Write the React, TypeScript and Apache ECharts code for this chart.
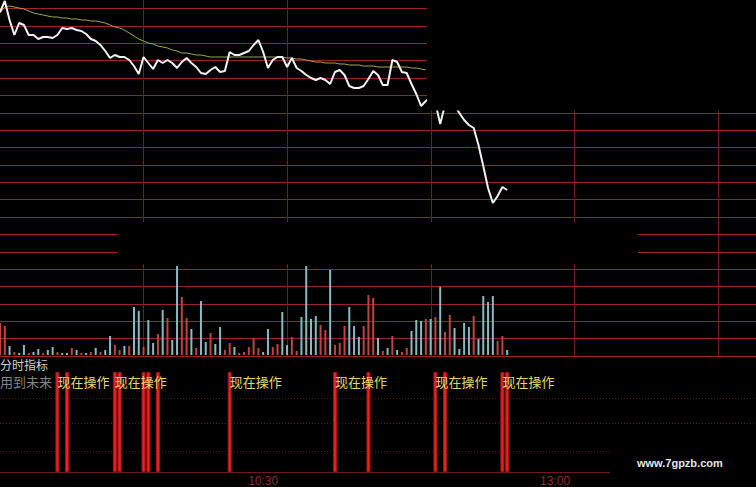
import React, { useEffect, useRef } from "react";
import * as echarts from "echarts";

// slots (minutes) shown across the full width of the chart
const SLOTS = 158;

// last price per slot
const price = [
  11.88, 11.99, 11.8, 11.65, 11.77, 11.75, 11.65, 11.65, 11.61, 11.63,
  11.63, 11.62, 11.65, 11.72, 11.71, 11.72, 11.7, 11.69, 11.66, 11.61,
  11.59, 11.55, 11.49, 11.42, 11.45, 11.43, 11.43, 11.4, 11.34, 11.26,
  11.43, 11.37, 11.31, 11.4, 11.37, 11.4, 11.37, 11.32, 11.38, 11.42,
  11.37, 11.33, 11.27, 11.26, 11.3, 11.33, 11.28, 11.29, 11.48, 11.45,
  11.45, 11.47, 11.49, 11.55, 11.6, 11.48, 11.32, 11.4, 11.43, 11.43,
  11.33, 11.42, 11.32, 11.29, 11.25, 11.22, 11.2, 11.22, 11.2, 11.16,
  11.28, 11.3, 11.25, 11.14, 11.12, 11.12, 11.14, 11.21, 11.29, 11.25,
  11.15, 11.15, 11.4, 11.38, 11.28, 11.27, 11.16, 11.06, 10.94, 10.99,
  11.03, 10.97, 10.76, 10.95, 11.02, 10.95, 10.87, 10.8, 10.75, 10.72,
  10.55, 10.34, 10.12, 9.97, 10.04, 10.13, 10.1,
];

// average price per slot (visible part)
const avgPrice = [
  11.87, 11.93, 11.94, 11.93, 11.92, 11.91, 11.89, 11.87, 11.86, 11.85,
  11.84, 11.83, 11.83, 11.82, 11.82, 11.81, 11.81, 11.8, 11.8, 11.79,
  11.79, 11.78, 11.77, 11.75, 11.73, 11.72, 11.7, 11.67, 11.64, 11.61,
  11.59, 11.57, 11.56, 11.54, 11.53, 11.52, 11.5, 11.49, 11.47, 11.47,
  11.46, 11.45, 11.45, 11.44, 11.43, 11.43, 11.43, 11.43, 11.43, 11.43,
  11.43, 11.43, 11.43, 11.43, 11.43, 11.43, 11.43, 11.43, 11.43, 11.43,
  11.42, 11.42, 11.41, 11.41, 11.4, 11.39, 11.38, 11.38, 11.37, 11.37,
  11.37, 11.36, 11.36, 11.35, 11.35, 11.35, 11.34, 11.34, 11.34, 11.33,
  11.33, 11.33, 11.33, 11.33, 11.33, 11.33, 11.32, 11.32, 11.31, 11.3,
];

// volume per slot
const volume = [
  32, 29, 9, 3, 2, 10, 2, 3, 6, 2,
  5, 8, 3, 2, 2, 7, 5, 2, 2, 3,
  7, 3, 5, 19, 10, 5, 9, 9, 48, 44,
  8, 35, 12, 21, 45, 37, 15, 89, 58, 37,
  26, 7, 54, 13, 22, 11, 28, 5, 12, 8,
  2, 3, 8, 17, 7, 3, 26, 8, 11, 43,
  10, 18, 4, 38, 89, 36, 39, 30, 25, 85,
  10, 12, 29, 48, 29, 18, 29, 60, 57, 17,
  4, 7, 19, 5, 3, 7, 24, 35, 34, 36,
  36, 38, 68, 23, 40, 27, 6, 32, 28, 39,
  16, 59, 53, 59, 14, 19, 5,
];

// 1 = up tick (red), 0 = down tick (cyan)
const volumeUp = [
  1, 1, 0, 1, 0, 0, 1, 0, 0, 1,
  0, 0, 1, 0, 0, 1, 0, 1, 0, 1,
  0, 1, 0, 0, 1, 1, 0, 1, 0, 0,
  1, 0, 0, 1, 0, 1, 0, 0, 1, 1,
  0, 1, 0, 0, 1, 0, 0, 1, 1, 0,
  1, 1, 1, 1, 1, 0, 0, 1, 1, 0,
  0, 1, 1, 0, 0, 0, 0, 1, 1, 0,
  1, 1, 1, 0, 0, 0, 1, 1, 1, 0,
  1, 0, 1, 0, 1, 1, 0, 0, 0, 1,
  0, 1, 0, 1, 1, 0, 0, 0, 0, 1,
  0, 0, 0, 0, 1, 1, 0,
];

// indicator signals (slot indices) and the ones carrying the text
const signalSlots = [12, 14, 24, 25, 30, 31, 33, 48, 70, 77, 91, 93, 105, 106];
const signalTextSlots = [12, 24, 48, 70, 91, 105];
const signalText = "现在操作";

// time axis labels
const timeTickSlots = [55, 116];
const timeTickLabels = ["10:30", "13:00"];

const W = 756;
const H = 487;
const HOUR_PX = 143.6;

export default function App() {
  const ref = useRef<HTMLDivElement>(null);

  useEffect(() => {
    if (!ref.current) return;
    const chart = echarts.init(ref.current, undefined, { renderer: "svg" });
    const cjk = "'Noto Sans CJK SC', sans-serif";
    const hidden = { show: false };
    const hiddenX = (gridIndex: number) => ({
      type: "value",
      gridIndex,
      min: 0,
      max: SLOTS,
      show: false,
    });

    const option: any = {
      animation: false,
      backgroundColor: "#000",
      grid: [
        { left: 0, top: 8.5, width: W, height: 347.5 }, // horizontal grid lines
        { left: 0, top: 0, width: W, height: 356 }, // vertical grid lines
        { left: 0, top: 0, width: W, height: 355 }, // price
        { left: 0, top: 262, width: W, height: 93 }, // volume
        { left: 0, top: 372, width: W, height: 106 }, // signals
      ],
      xAxis: [
        { type: "value", gridIndex: 0, min: 0, max: 1, show: false },
        {
          type: "value",
          gridIndex: 1,
          min: 0,
          max: W / HOUR_PX,
          interval: 1,
          axisLine: hidden,
          axisTick: hidden,
          axisLabel: hidden,
          splitLine: {
            show: true,
            showMinLine: false,
            showMaxLine: false,
            lineStyle: { color: "#7a1a1c", width: 1 },
          },
        },
        hiddenX(2),
        hiddenX(3),
        {
          type: "value",
          gridIndex: 4,
          min: 0,
          max: SLOTS,
          axisLine: { show: true, lineStyle: { color: "#6e1a1a", width: 1 } },
          axisTick: { show: false },
          splitLine: { show: false },
          axisLabel: {
            show: true,
            customValues: timeTickSlots,
            formatter: (v: number) => {
              const k = timeTickSlots.indexOf(Math.round(v));
              return k >= 0 ? timeTickLabels[k] : "";
            },
            color: "#8c2e2e",
            fontSize: 12,
            margin: 3,
            fontFamily: "'Liberation Sans', sans-serif",
          },
        },
      ],
      yAxis: [
        {
          type: "value",
          gridIndex: 0,
          min: 0,
          max: 20,
          interval: 1,
          axisLine: hidden,
          axisTick: hidden,
          axisLabel: hidden,
          splitLine: { show: true, lineStyle: { color: "#9c2226", width: 1 } },
        },
        { type: "value", gridIndex: 1, min: 0, max: 1, show: false },
        { type: "value", gridIndex: 2, min: 8.45, max: 12, show: false },
        { type: "value", gridIndex: 3, min: 0, max: 93, show: false },
        { type: "value", gridIndex: 4, min: 0, max: 1, show: false },
      ],
      series: [
        {
          type: "line",
          xAxisIndex: 2,
          yAxisIndex: 2,
          data: avgPrice.map((p, i) => [i, p]),
          showSymbol: false,
          lineStyle: { color: "#a8a44c", width: 1 },
          z: 4,
        },
        {
          type: "line",
          xAxisIndex: 2,
          yAxisIndex: 2,
          data: price.map((p, i) => [i, p]),
          showSymbol: false,
          lineStyle: { color: "#f2f2f2", width: 2 },
          z: 5,
        },
        {
          type: "bar",
          xAxisIndex: 3,
          yAxisIndex: 3,
          barWidth: 2,
          data: volume.map((v, i) => ({
            value: [i, v],
            itemStyle: { color: volumeUp[i] ? "#c2433f" : "#88bac4" },
          })),
          z: 3,
        },
        {
          type: "bar",
          xAxisIndex: 4,
          yAxisIndex: 4,
          barWidth: 4,
          itemStyle: { color: "#e62222", borderColor: "#a81212", borderWidth: 1 },
          label: {
            show: false,
            position: [2, 3],
            formatter: signalText,
            color: "#e2d86a",
            fontSize: 13,
            fontFamily: cjk,
          },
          data: signalSlots.map((s) => ({
            value: [s, 1],
            label: { show: signalTextSlots.indexOf(s) >= 0 },
          })),
          z: 6,
        },
      ],
      graphic: {
        elements: [
          {
            type: "line",
            shape: { x1: 0, y1: 398.5, x2: W, y2: 398.5 },
            style: { stroke: "#5c1616", lineWidth: 1, lineDash: [1, 2] },
            z: 1,
          },
          {
            type: "line",
            shape: { x1: 0, y1: 423.5, x2: W, y2: 423.5 },
            style: { stroke: "#5c1616", lineWidth: 1, lineDash: [1, 2] },
            z: 1,
          },
          {
            type: "line",
            shape: { x1: 0, y1: 451.5, x2: W, y2: 451.5 },
            style: { stroke: "#5c1616", lineWidth: 1, lineDash: [1, 2] },
            z: 1,
          },
          {
            type: "text",
            x: 0,
            y: 358,
            style: {
              text: "分时指标",
              fill: "#cfcfcf",
              font: `12px ${cjk}`,
              textAlign: "left",
              textVerticalAlign: "top",
            },
            z: 10,
          },
          {
            type: "text",
            x: 0,
            y: 375,
            style: {
              text: "用到未来",
              fill: "#858585",
              font: `13px ${cjk}`,
              textAlign: "left",
              textVerticalAlign: "top",
            },
            z: 1,
          },
          {
            type: "rect",
            shape: { x: 427, y: 0, width: W - 427, height: 110.5 },
            style: { fill: "#000" },
            z: 100,
          },
          {
            type: "rect",
            shape: { x: 117, y: 222, width: 521, height: 42 },
            style: { fill: "#000" },
            z: 100,
          },
          {
            type: "rect",
            shape: { x: 610, y: 438, width: W - 610, height: H - 438 },
            style: { fill: "#000" },
            z: 100,
          },
          {
            type: "text",
            x: 637,
            y: 463,
            style: {
              text: "www.7gpzb.com",
              fill: "#e6e6e6",
              font: "bold 11px 'Liberation Sans', sans-serif",
              textAlign: "left",
              textVerticalAlign: "middle",
            },
            z: 101,
          },
        ],
      },
    };

    chart.setOption(option);
    return () => chart.dispose();
  }, []);

  return (
    <div
      ref={ref}
      style={{
        position: "fixed",
        left: 0,
        top: 0,
        width: W,
        height: H,
        background: "#000",
      }}
    />
  );
}
